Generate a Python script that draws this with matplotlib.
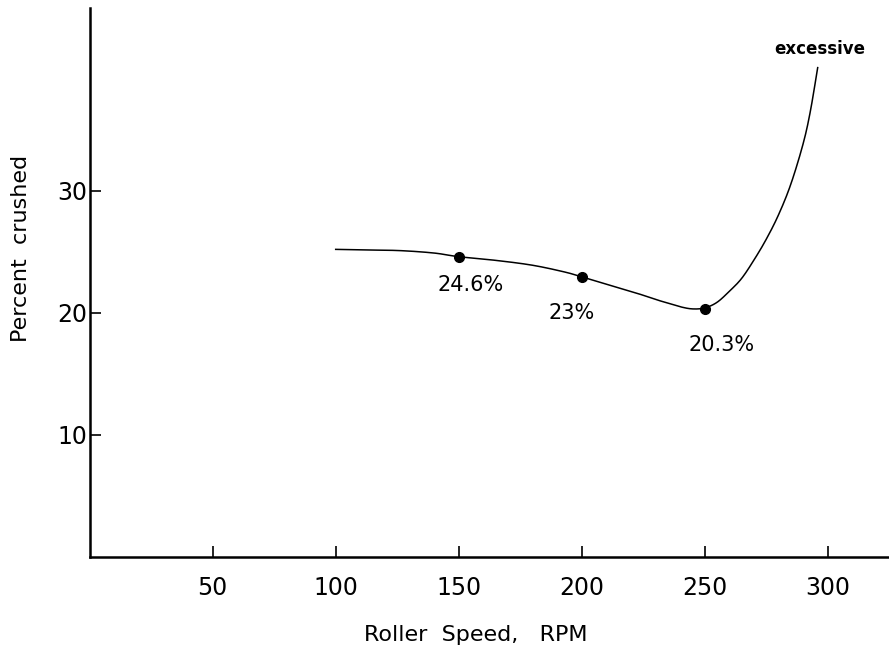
import numpy as np
import matplotlib.pyplot as plt

# pontos (velocidade do rolo, % esmagado)
curve_rpm = [100, 112, 126, 140, 150, 165, 180, 193, 200, 210, 221, 230, 235, 240, 245, 250,
             255, 260, 265, 270, 275, 280, 285, 290, 293, 296]
curve_pct = [25.2, 25.15, 25.1, 24.9, 24.6, 24.3, 23.9, 23.35, 22.95, 22.35, 21.7, 21.1, 20.8, 20.5, 20.32, 20.4,
             20.85, 21.75, 22.8, 24.3, 26.0, 28.0, 30.5, 33.8, 36.5, 40.1]

# pontos medidos
point_rpm = [150, 200, 250]
point_pct = [24.6, 22.9, 20.3]
point_labels = ['24.6%', '23%', '20.3%']

x_ticks = [50, 100, 150, 200, 250, 300]
y_ticks = [10, 20, 30]


def smooth(xs, ys, n=20):
    # Catmull-Rom só para desenhar a linha suave entre os pontos lidos
    p = np.column_stack([xs, ys]).astype(float)
    p = np.vstack([p[0], p, p[-1]])
    out = []
    t = np.linspace(0, 1, n, endpoint=False)[:, None]
    for i in range(1, len(p) - 2):
        p0, p1, p2, p3 = p[i - 1], p[i], p[i + 1], p[i + 2]
        seg = 0.5 * ((2 * p1) + (-p0 + p2) * t + (2 * p0 - 5 * p1 + 4 * p2 - p3) * t ** 2
                     + (-p0 + 3 * p1 - 3 * p2 + p3) * t ** 3)
        out.append(seg)
    out.append(p[-2][None, :])
    out = np.vstack(out)
    return out[:, 0], out[:, 1]


fig = plt.figure(figsize=(8.89, 6.55), dpi=100)
ax = fig.add_axes([0.101, 0.150, 0.899, 0.838])

sx, sy = smooth(curve_rpm, curve_pct)
ax.plot(sx, sy, color='black', linewidth=1.1)
ax.plot(point_rpm, point_pct, 'o', color='black', markersize=7)

# rótulos dos pontos
offsets = [(5, -2.3), (-4, -2.9), (7, -2.9)]
for x, y, lab, (dx, dy) in zip(point_rpm, point_pct, point_labels, offsets):
    ax.text(x + dx, y + dy, lab, ha='center', va='center', fontsize=15)

ax.text(297, 41.6, 'excessive', ha='center', va='center', fontsize=12, fontweight='bold')

ax.set_xlim(0, 325)
ax.set_ylim(0, 45)
ax.set_xticks(x_ticks)
ax.set_yticks(y_ticks)
ax.tick_params(axis='both', direction='in', length=8, width=1.2, labelsize=17)
ax.tick_params(axis='x', pad=14)
ax.tick_params(axis='y', pad=2)

for s in ['top', 'right']:
    ax.spines[s].set_visible(False)
for s in ['left', 'bottom']:
    ax.spines[s].set_linewidth(1.8)

fig.text(0.024, 0.62, 'Percent  crushed', rotation=90, ha='center', va='center', fontsize=16)
fig.text(0.535, 0.03, 'Roller  Speed,   RPM', ha='center', va='center', fontsize=16)

plt.savefig('out.png', dpi=100)
